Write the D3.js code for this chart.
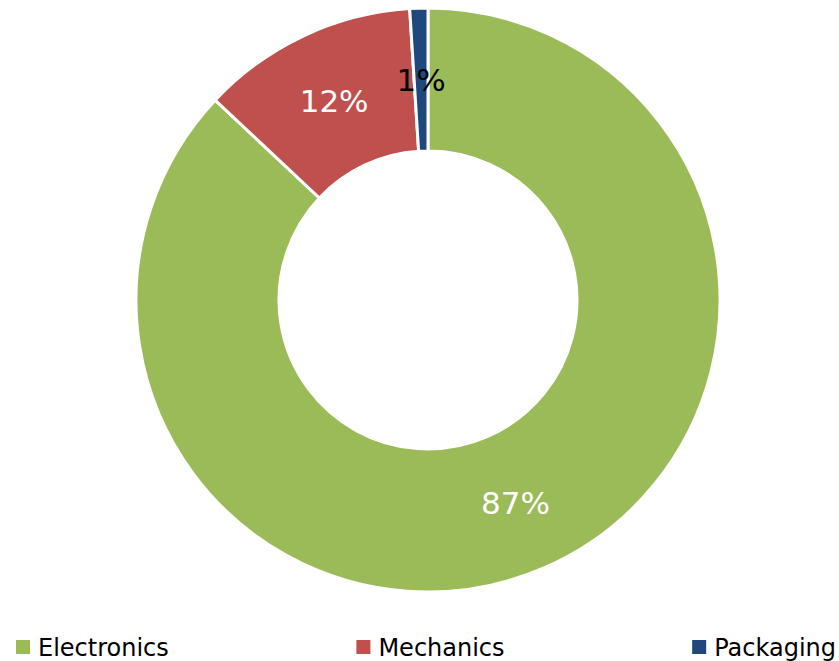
<!DOCTYPE html>
<html>
<head>
<meta charset="utf-8">
<script src="https://cdn.jsdelivr.net/npm/d3@7"></script>
<style>
  html, body { margin: 0; padding: 0; background: #fff; }
  svg { display: block; font-family: "DejaVu Sans", sans-serif; }
</style>
</head>
<body>
<svg id="chart" width="839" height="661"></svg>
<script>
// Share of items by category
const categories = ["Electronics", "Mechanics", "Packaging"];
const shares = [87, 12, 1];
const colors = ["#9BBB59", "#C0504D", "#1F497D"];
const labelColors = ["#ffffff", "#ffffff", "#000000"];

const width = 839, height = 661;
const cx = 428, cy = 300;
const outerR = 292, innerR = 149;

const svg = d3.select("#chart");

const pie = d3.pie().sort(null).value(d => d.value);
const data = pie(categories.map((c, i) => ({ name: c, value: shares[i], i })));

const arc = d3.arc().innerRadius(innerR).outerRadius(outerR);

const g = svg.append("g").attr("transform", `translate(${cx},${cy})`);

g.selectAll("path.slice")
  .data(data)
  .join("path")
  .attr("class", "slice")
  .attr("d", arc)
  .attr("fill", d => colors[d.data.i])
  .attr("stroke", "#fff")
  .attr("stroke-width", 3);

g.selectAll("text.pct")
  .data(data)
  .join("text")
  .attr("class", "pct")
  .attr("transform", d => `translate(${arc.centroid(d)})`)
  .attr("text-anchor", "middle")
  .attr("dy", "0.36em")
  .attr("font-size", 31)
  .attr("fill", d => labelColors[d.data.i])
  .text(d => d.data.value + "%");

// Legend along the bottom: items spread with equal gaps between them
const legendLeft = 16, legendRight = 836, swatch = 14, textGap = 8;
const legend = svg.append("g").attr("transform", "translate(0,647)");
const item = legend.selectAll("g")
  .data(categories)
  .join("g");
item.append("rect")
  .attr("x", 0).attr("y", -7)
  .attr("width", swatch).attr("height", swatch)
  .attr("fill", (d, i) => colors[i]);
item.append("text")
  .attr("x", swatch + textGap)
  .attr("dy", "0.36em")
  .attr("font-size", 24)
  .attr("fill", "#000")
  .text(d => d);

const widths = item.nodes().map(n => n.getBBox().width);
const total = d3.sum(widths);
const gap = (legendRight - legendLeft - total) / (categories.length - 1);
let x = legendLeft;
item.attr("transform", (d, i) => {
  const t = `translate(${x},0)`;
  x += widths[i] + gap;
  return t;
});
</script>
</body>
</html>
